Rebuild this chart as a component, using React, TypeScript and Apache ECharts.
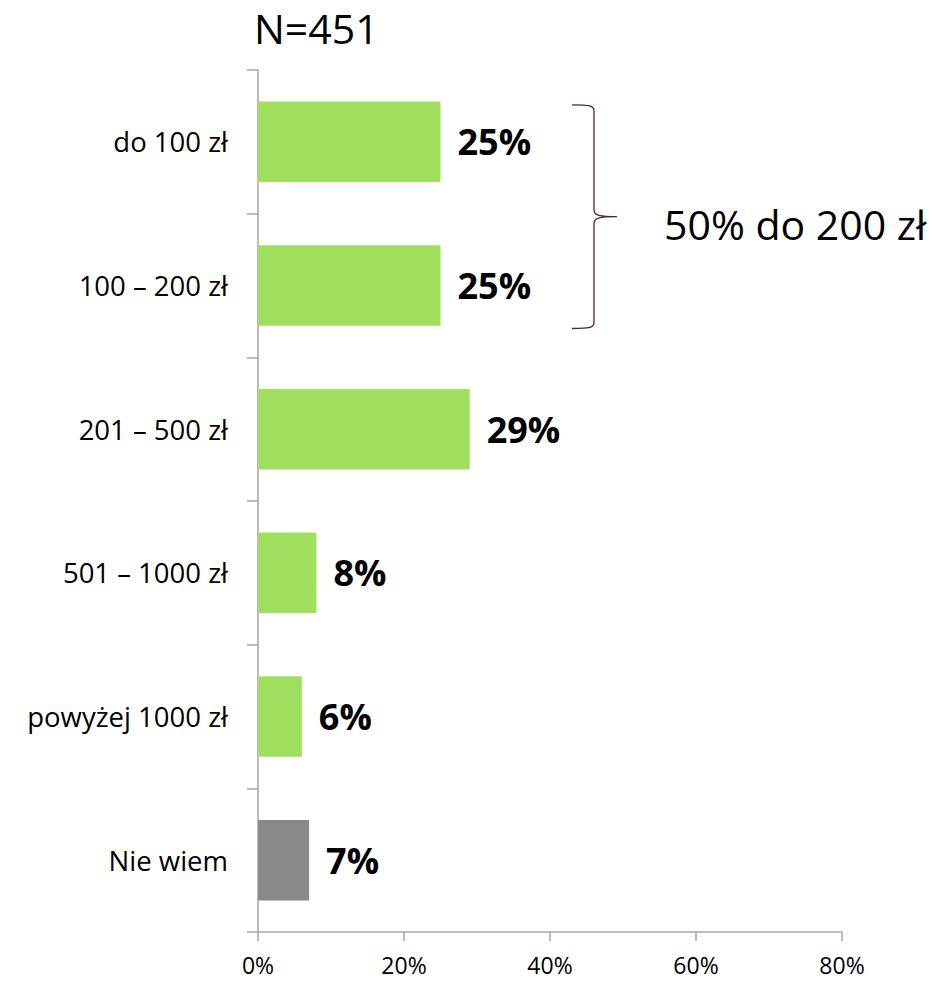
import React, { useEffect, useRef } from "react";
import * as echarts from "echarts";

const categories = ["do 100 zł", "100 – 200 zł", "201 – 500 zł", "501 – 1000 zł", "powyżej 1000 zł", "Nie wiem"];
const values = [25, 25, 29, 8, 6, 7];
const barColors = ["#A0DF5D", "#A0DF5D", "#A0DF5D", "#A0DF5D", "#A0DF5D", "#898989"];
const xTicks = [0, 20, 40, 60, 80];
const titleText = "N=451";
const braceText = "50% do 200 zł";

const FONT = "'Open Sans', sans-serif";

export default function App() {
  const ref = useRef<HTMLDivElement>(null);
  useEffect(() => {
    if (!ref.current) return;
    const chart = echarts.init(ref.current, null, { renderer: "svg" });
    const gridLeft = 258, gridTop = 70, gridRight = 99, gridBottom = 51;
    chart.setOption({
      animation: false,
      grid: { left: gridLeft, top: gridTop, right: gridRight, bottom: gridBottom, containLabel: false },
      xAxis: {
        type: "value",
        min: xTicks[0],
        max: xTicks[xTicks.length - 1],
        interval: 20,
        axisLine: { show: true, lineStyle: { color: "#A6A6A6", width: 1.5 } },
        axisTick: { show: true, length: 9, lineStyle: { color: "#A6A6A6", width: 1.5 } },
        splitLine: { show: false },
        axisLabel: { formatter: "{value}%", color: "#000", fontSize: 23, lineHeight: 24, fontFamily: FONT, margin: 21 },
      },
      yAxis: {
        type: "category",
        data: categories,
        inverse: true,
        axisLine: { show: true, lineStyle: { color: "#A6A6A6", width: 1.5 } },
        axisTick: { show: true, length: 11, lineStyle: { color: "#A6A6A6", width: 1.5 } },
        axisLabel: { color: "#000", fontSize: 27.5, fontFamily: FONT, margin: 30 },
      },
      series: [
        {
          type: "bar",
          data: values.map((v, i) => ({ value: v, itemStyle: { color: barColors[i] } })),
          barWidth: "56%",
          label: {
            show: true,
            position: "right",
            distance: 17,
            formatter: "{c}%",
            color: "#000",
            fontWeight: "bold",
            fontSize: 36,
            fontFamily: FONT,
          },
        },
      ],
    });

    // Brace spanning the first two categories
    const topBand = chart.convertToPixel({ yAxisIndex: 0 }, 0) as number;
    const secBand = chart.convertToPixel({ yAxisIndex: 0 }, 1) as number;
    const y0 = topBand - 37;
    const y1 = secBand + 43;
    const ym = (y0 + y1) / 2;
    const xl = 572, xv = 594, xt = 617;
    const d =
      `M${xl},${y0} C${xv - 4},${y0} ${xv},${y0 + 1} ${xv},${y0 + 6} L${xv},${ym - 7} C${xv},${ym - 1} ${xv + 6},${ym} ${xt},${ym}` +
      ` C${xv + 6},${ym} ${xv},${ym + 1} ${xv},${ym + 7} L${xv},${y1 - 6} C${xv},${y1 - 1} ${xv - 4},${y1} ${xl},${y1}`;
    echarts.graphic.registerShape("brace", echarts.graphic.extendPath(d, {}) as any);

    chart.setOption({
      graphic: [
        {
          type: "brace",
          x: 0,
          y: 0,
          style: { fill: "none", stroke: "#5B1F2E", lineWidth: 1.3 },
        },
        {
          type: "text",
          x: 664,
          y: 224,
          style: { text: braceText, fontSize: 41, fontFamily: FONT, fill: "#000", verticalAlign: "middle" },
        },
        {
          type: "text",
          x: 254,
          y: 28,
          style: { text: titleText, fontSize: 41, fontFamily: FONT, fill: "#000", verticalAlign: "middle" },
        },
      ],
    });
    return () => chart.dispose();
  }, []);
  return <div ref={ref} style={{ width: 941, height: 983, position: "absolute", left: 0, top: 0 }} />;
}
